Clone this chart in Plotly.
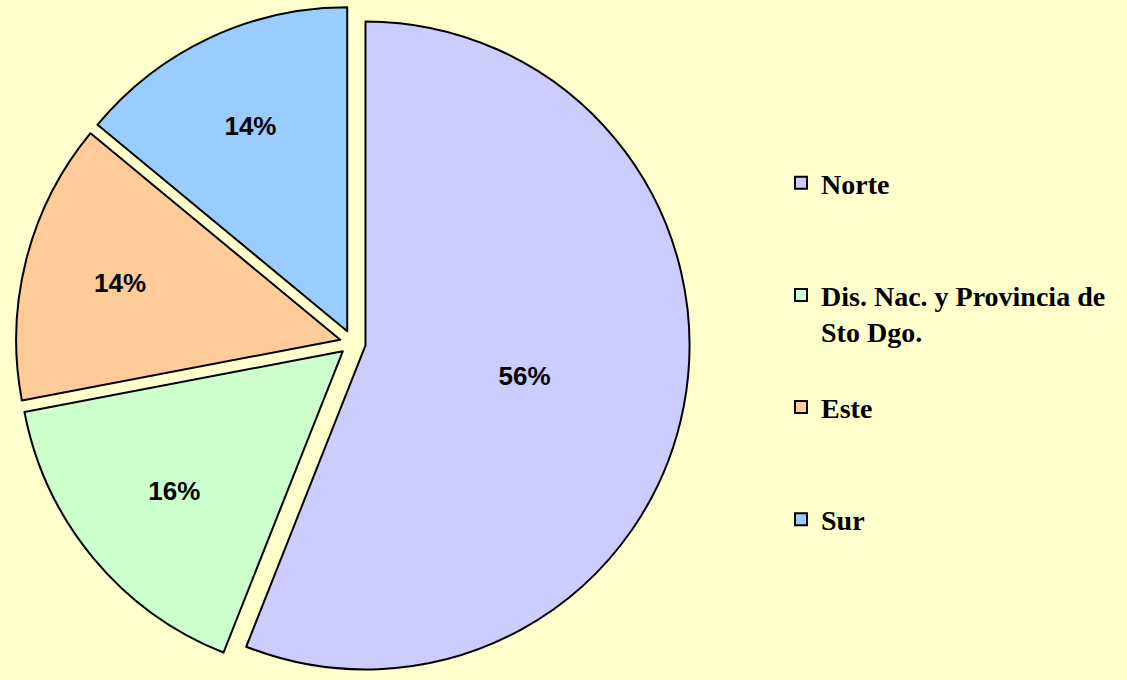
import plotly.graph_objects as go

categories = ["Norte", "Dis. Nac. y Provincia de<br>Sto Dgo.", "Este", "Sur"]
values = [56, 16, 14, 14]
colors = ["#CCCCFF", "#CCFFCC", "#FFCC99", "#99CCFF"]

# pad each legend entry to three lines so the items sit in equal slots
def pad(label, lines=3):
    n = label.count("<br>") + 1
    return label + "<br>\u00a0" * (lines - n)

legend_labels = [pad(c) for c in categories]

fig = go.Figure(
    go.Pie(
        labels=legend_labels,
        values=values,
        sort=False,
        direction="clockwise",
        rotation=0,
        pull=[0.04] * len(values),
        marker=dict(colors=colors, line=dict(color="black", width=2)),
        texttemplate="%{percent:.0%}",
        textposition="inside",
        insidetextorientation="horizontal",
        textfont=dict(family="Arial, 'Liberation Sans', sans-serif", size=26, color="black", weight="bold"),
        domain=dict(x=[0.012, 0.614], y=[0, 1]),
        hoverinfo="label+percent",
    )
)

fig.update_layout(
    width=1127,
    height=680,
    margin=dict(l=0, r=0, t=6, b=0),
    paper_bgcolor="#FFFFCC",
    plot_bgcolor="#FFFFCC",
    showlegend=True,
    legend=dict(
        x=0.693,
        xanchor="left",
        y=1 - 152 / 674,
        yanchor="top",
        valign="top",
        font=dict(family="'Times New Roman', 'Liberation Serif', serif", size=28, color="black", weight="bold"),
        bgcolor="rgba(0,0,0,0)",
        itemwidth=30,
    ),
)

fig.write_html(
    "out.html",
    config={"displayModeBar": False},
    post_script="document.body.style.margin='0';document.body.style.background='#FFFFCC';",
)
